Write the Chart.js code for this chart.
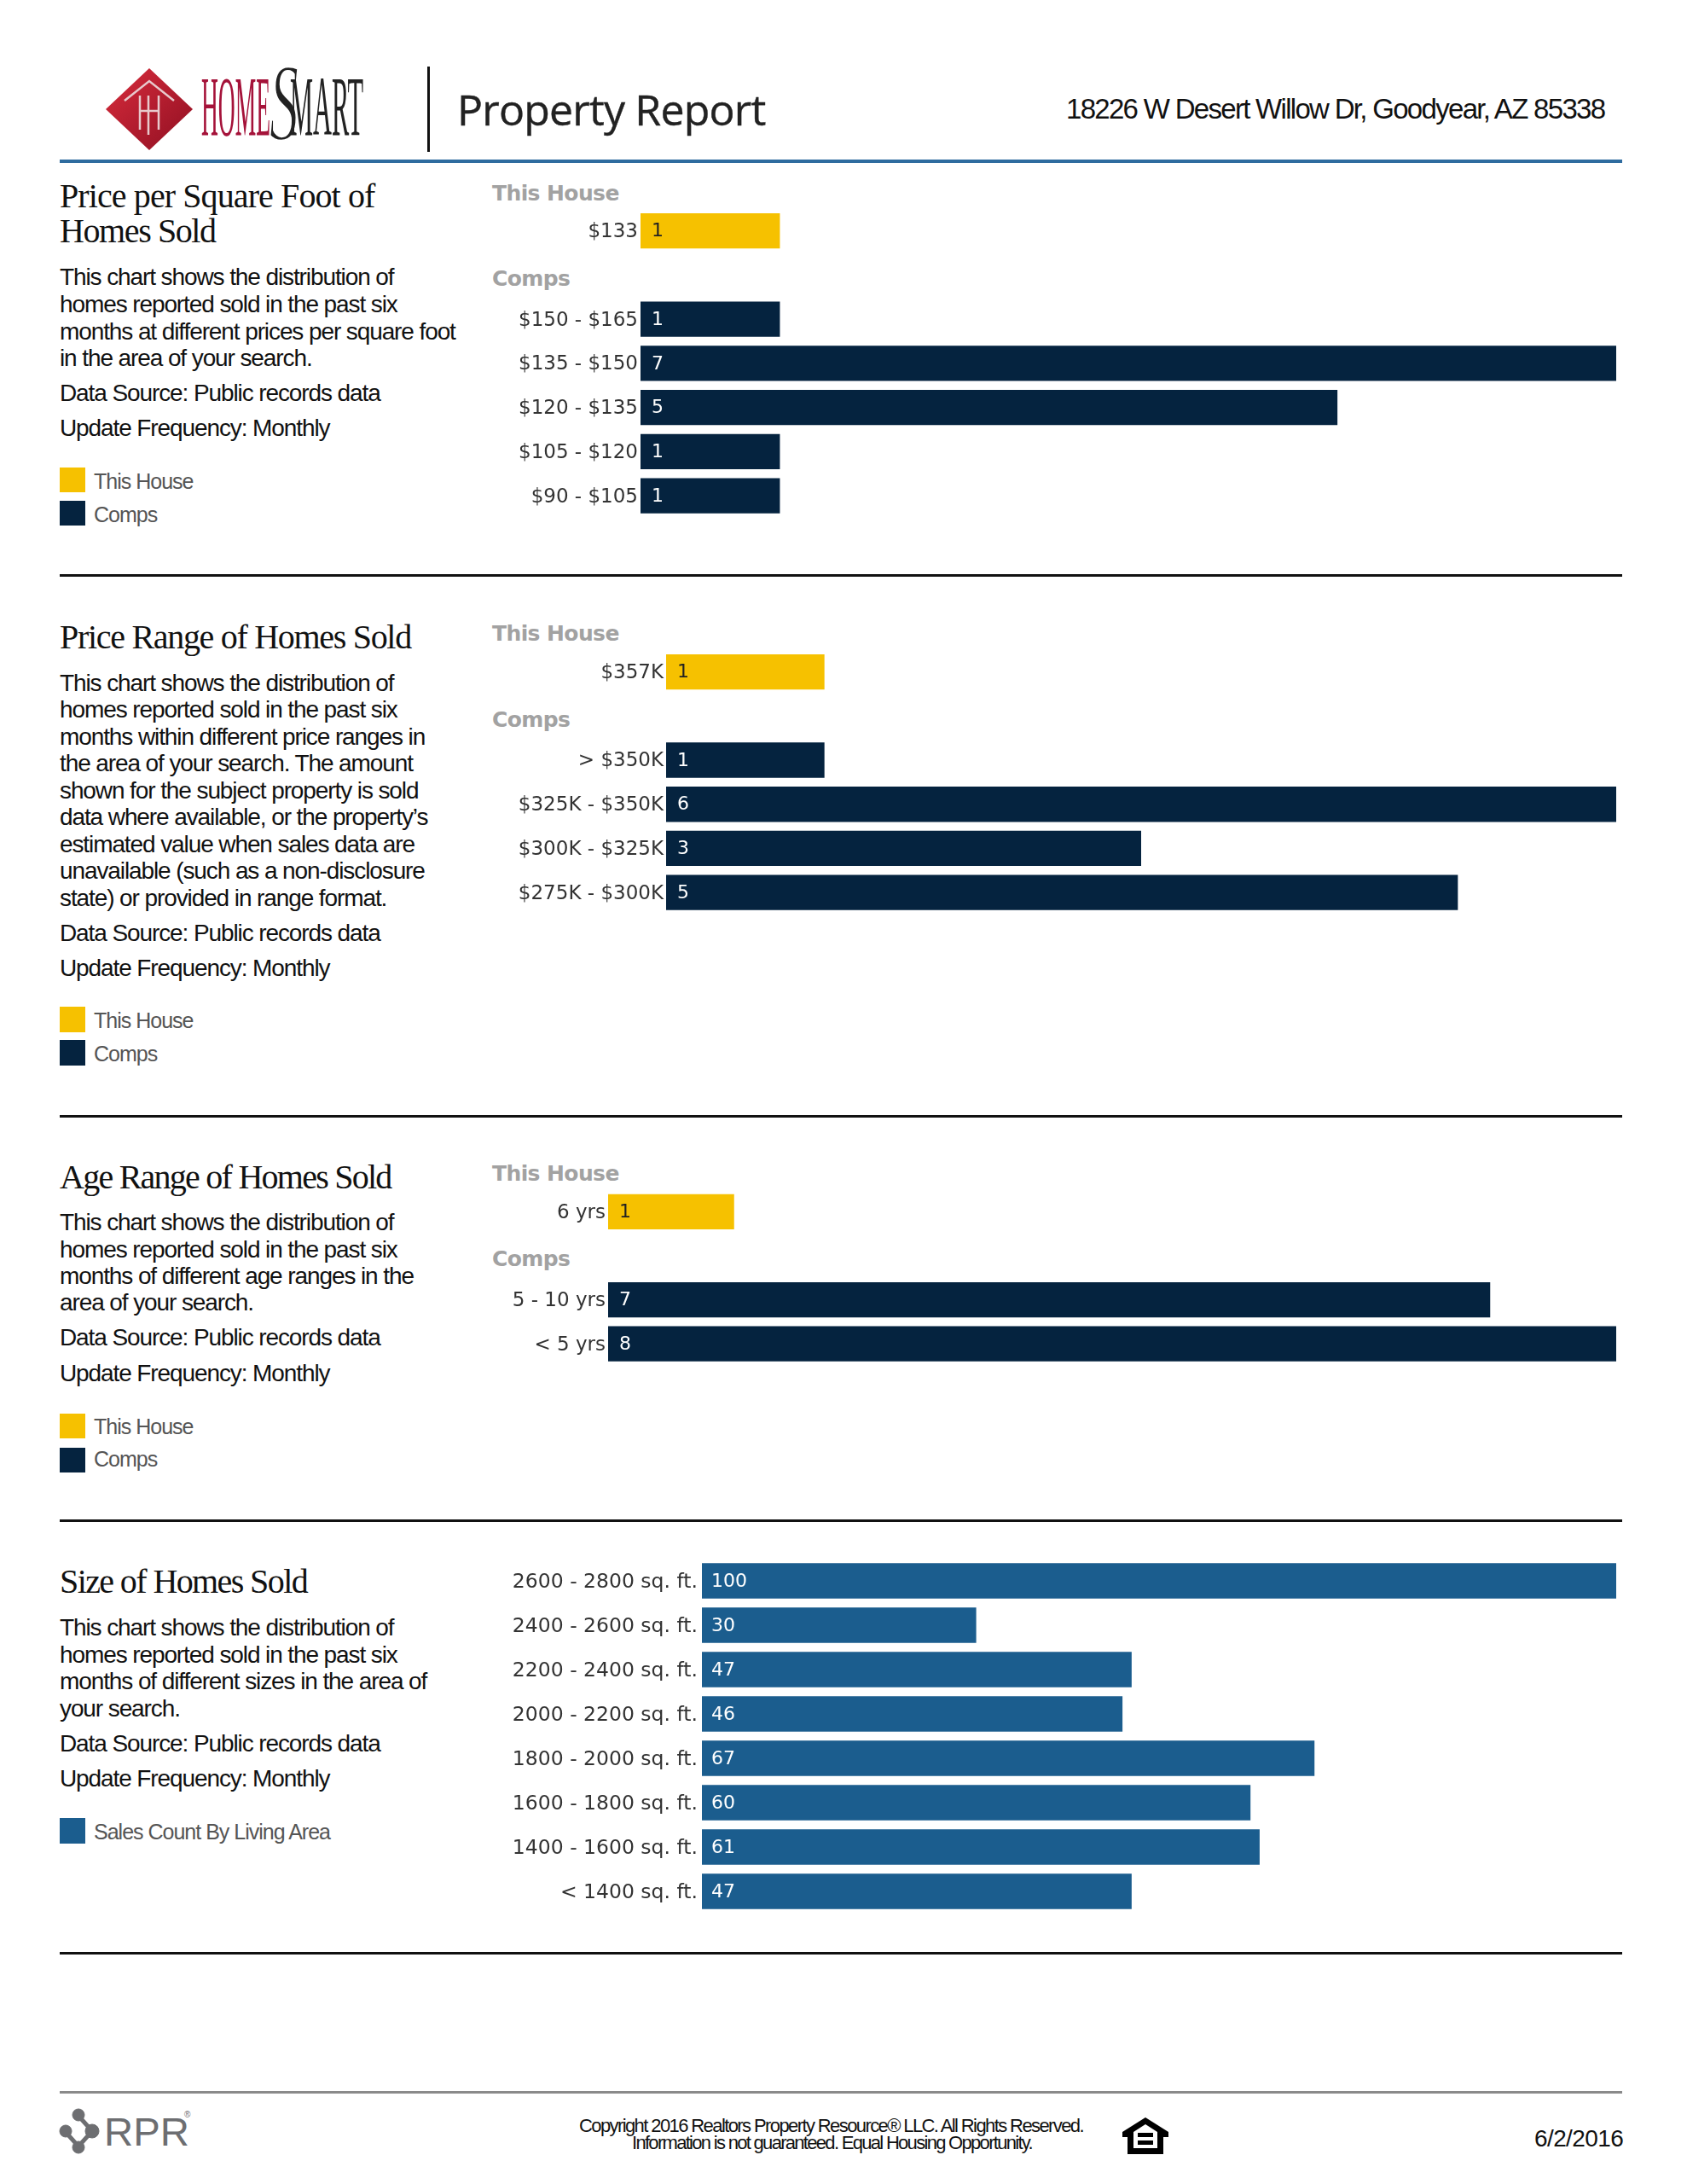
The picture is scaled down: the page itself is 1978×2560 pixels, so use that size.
<!DOCTYPE html>
<html>
<head>
<meta charset="utf-8">
<title>Property Report</title>
<script src="https://cdn.jsdelivr.net/npm/chart.js@4"></script>
<style>
  html, body { margin: 0; padding: 0; background: #fff; }
  #page { position: relative; width: 1978px; height: 2560px; overflow: hidden; }
  #page canvas, #page svg { position: absolute; }
  .t { position: absolute; white-space: nowrap; line-height: 1; transform: translateY(-50%); }
  .title { font: 40px "Liberation Serif", serif; color: #111; }
  .body { font: 28px "Liberation Sans", sans-serif; color: #111; letter-spacing: -1.1px; }
  .leg { font: 25px "Liberation Sans", sans-serif; color: #555; letter-spacing: -1px; }
  .head { font: bold 25px "DejaVu Sans", sans-serif; color: #a2a2a2; letter-spacing: -0.6px; }
  .foot { font: 22px "Liberation Sans", sans-serif; color: #111; letter-spacing: -1.7px; }
  .rule { position: absolute; left: 70px; width: 1832px; }
  .sw { position: absolute; left: 70px; width: 30px; }
</style>
</head>
<body>
<div id="page"></div>
<script>
/*
  Property report page, four bar charts. Text around the charts is plain DOM.
*/

const YELLOW = '#f6c100';
const NAVY = '#05233f';
const BLUE = '#1b5d8e';

// Price per square foot
const ppsfHouseLabels = ['$133'];
const ppsfHouseValues = [1];
const ppsfCompLabels = ['$150 - $165', '$135 - $150', '$120 - $135', '$105 - $120', '$90 - $105'];
const ppsfCompValues = [1, 7, 5, 1, 1];

// Price range
const priceHouseLabels = ['$357K'];
const priceHouseValues = [1];
const priceCompLabels = ['> $350K', '$325K - $350K', '$300K - $325K', '$275K - $300K'];
const priceCompValues = [1, 6, 3, 5];

// Age range
const ageHouseLabels = ['6 yrs'];
const ageHouseValues = [1];
const ageCompLabels = ['5 - 10 yrs', '< 5 yrs'];
const ageCompValues = [7, 8];

// Size
const sizeLabels = ['2600 - 2800 sq. ft.', '2400 - 2600 sq. ft.', '2200 - 2400 sq. ft.', '2000 - 2200 sq. ft.',
  '1800 - 2000 sq. ft.', '1600 - 1800 sq. ft.', '1400 - 1600 sq. ft.', '< 1400 sq. ft.'];
const sizeValues = [100, 30, 47, 46, 67, 60, 61, 47];

const page = document.getElementById('page');

function text(str, cls, x, y, extra){
  const d = document.createElement('div');
  d.className = 't ' + cls;
  d.textContent = str;
  d.style.left = x + 'px';
  d.style.top = y + 'px';
  if(extra) d.style.cssText += extra;
  page.appendChild(d);
  return d;
}

function rule(y, h, color){
  const d = document.createElement('div');
  d.className = 'rule';
  d.style.top = y + 'px';
  d.style.height = h + 'px';
  d.style.background = color;
  page.appendChild(d);
}

function swatch(y, h, color){
  const d = document.createElement('div');
  d.className = 'sw';
  d.style.top = y + 'px';
  d.style.height = h + 'px';
  d.style.background = color;
  page.appendChild(d);
}

// value printed just inside the start of each bar
const barValues = {
  id: 'barValues',
  afterDatasetsDraw(chart){
    const ctx = chart.ctx;
    ctx.save();
    ctx.font = '22px "DejaVu Sans", sans-serif';
    ctx.textBaseline = 'middle';
    chart.data.datasets.forEach((ds, i) => {
      chart.getDatasetMeta(i).data.forEach((el, j) => {
        if(ds.data[j] == null) return;
        ctx.fillStyle = ds.valueColor;
        ctx.fillText(String(ds.data[j]), el.base + ds.valueInset, el.y + 1);
      });
    });
    ctx.restore();
  }
};

function buildChart(top, height, plotLeft, labels, datasets, max, padding, fontSize){
  const canvas = document.createElement('canvas');
  const left = 577;
  canvas.width = 1895 - left;
  canvas.height = height;
  canvas.style.left = left + 'px';
  canvas.style.top = top + 'px';
  page.appendChild(canvas);
  return new Chart(canvas.getContext('2d'), {
    type: 'bar',
    data: { labels, datasets },
    plugins: [barValues],
    options: {
      indexAxis: 'y',
      responsive: false,
      animation: false,
      devicePixelRatio: 1,
      plugins: { legend: { display: false }, tooltip: { enabled: false } },
      layout: { padding: 0 },
      scales: {
        x: { display: false, stacked: true, min: 0, max },
        y: {
          stacked: true,
          afterFit(axis){
            axis.width = plotLeft - left;
            // first/last labels would otherwise inset the plot area
            axis.paddingTop = 0;
            axis.paddingBottom = 0;
          },
          grid: { display: false, drawTicks: false },
          border: { display: false },
          ticks: { autoSkip: false, padding, labelOffset: 1.5, color: '#333', font: { family: '"DejaVu Sans", sans-serif', size: fontSize } },
        },
      },
    },
  });
}

// heading slot, house bar, heading slot, comp bars
function houseCompChart(top, height, plotLeft, houseLabels, houseValues, compLabels, compValues, max){
  const labels = ['', ...houseLabels, '', ...compLabels];
  const house = [null, ...houseValues, null, ...compValues.map(() => null)];
  const comps = [null, ...houseValues.map(() => null), null, ...compValues];
  return buildChart(top, height, plotLeft, labels, [
    { label: 'This House', data: house, backgroundColor: YELLOW, valueColor: '#222', valueInset: 13, barPercentage: 0.8, categoryPercentage: 1 },
    { label: 'Comps', data: comps, backgroundColor: NAVY, valueColor: '#fff', valueInset: 13, barPercentage: 0.8, categoryPercentage: 1 },
  ], max, 3, 23);
}

function section(titles, bodyLines, bodyYs, legend){
  titles.forEach(t => text(t.s, 'title', 70, t.y, `letter-spacing:${t.ls}px`));
  bodyLines.forEach((s, i) => text(s, 'body', 70, bodyYs[i]));
  legend.forEach(l => {
    swatch(l.top, l.h, l.color);
    text(l.name, 'leg', 110, l.y);
  });
}

// page header
page.insertAdjacentHTML('beforeend', `
<svg style="left:120px;top:74px" width="320" height="110" viewBox="0 0 320 110">
  <defs><linearGradient id="red" x1="0" y1="0" x2="1" y2="1">
    <stop offset="0" stop-color="#d92c3c"/><stop offset="1" stop-color="#8f0f22"/></linearGradient></defs>
  <polygon points="55,6 106,54 55,102 4,54" fill="url(#red)"/>
  <path d="M26 44 L55 21 L84 44" fill="none" stroke="#e8c9cc" stroke-width="2.5"/>
  <path d="M44 38 V78 M54 38 V84 M66 38 V78 M44 56 H66" fill="none" stroke="#e8c9cc" stroke-width="2.5"/>
  <text x="196" y="90" font-family="Liberation Serif" font-style="italic" font-size="130" fill="#222" stroke="#fff" stroke-width="2.5" textLength="34" lengthAdjust="spacingAndGlyphs">S</text>
  <text x="116" y="84" font-family="Liberation Serif" font-size="100" fill="#a5133a" textLength="81" lengthAdjust="spacingAndGlyphs">HOME</text>
  <text x="220" y="84" font-family="Liberation Serif" font-size="100" fill="#222" textLength="86" lengthAdjust="spacingAndGlyphs">MART</text>
</svg>`);
const vbar = document.createElement('div');
vbar.style.cssText = 'position:absolute;left:501px;top:78px;width:3px;height:100px;background:#111';
page.appendChild(vbar);
text('Property Report', '', 536, 128, 'font:50px "Open Sans",sans-serif;color:#222;letter-spacing:-0.8px;-webkit-text-stroke:0.4px #222');
text('18226 W Desert Willow Dr, Goodyear, AZ 85338', '', 1250, 128, 'font:33px "Liberation Sans",sans-serif;color:#111;letter-spacing:-1.7px');
rule(187, 4, '#2f6c9f');

// section 1
section([{ s: 'Price per Square Foot of', y: 229, ls: -0.9 }, { s: 'Homes Sold', y: 270, ls: -1.4 }],
  ['This chart shows the distribution of', 'homes reported sold in the past six', 'months at different prices per square foot',
   'in the area of your search.', 'Data Source: Public records data', 'Update Frequency: Monthly'],
  [325, 357, 389, 420, 461, 502],
  [{ name: 'This House', color: YELLOW, top: 548, h: 29, y: 564 }, { name: 'Comps', color: NAVY, top: 587, h: 29, y: 603 }]);
text('This House', 'head', 577, 226);
text('Comps', 'head', 577, 326);
houseCompChart(192.5, 414, 751, ppsfHouseLabels, ppsfHouseValues, ppsfCompLabels, ppsfCompValues, 7);
rule(673, 3, '#111');

// section 2
section([{ s: 'Price Range of Homes Sold', y: 746, ls: -1.3 }],
  ['This chart shows the distribution of', 'homes reported sold in the past six', 'months within different price ranges in',
   'the area of your search. The amount', 'shown for the subject property is sold', 'data where available, or the property\u2019s',
   'estimated value when sales data are', 'unavailable (such as a non-disclosure', 'state) or provided in range format.',
   'Data Source: Public records data', 'Update Frequency: Monthly'],
  [801, 832, 864, 895, 927, 958, 990, 1021, 1053, 1094, 1135],
  [{ name: 'This House', color: YELLOW, top: 1180, h: 30, y: 1196 }, { name: 'Comps', color: NAVY, top: 1219, h: 30, y: 1235 }]);
text('This House', 'head', 577, 742);
text('Comps', 'head', 577, 843);
houseCompChart(709.5, 362, 781, priceHouseLabels, priceHouseValues, priceCompLabels, priceCompValues, 6);
rule(1306.5, 3, '#111');

// section 3
section([{ s: 'Age Range of Homes Sold', y: 1379, ls: -1.75 }],
  ['This chart shows the distribution of', 'homes reported sold in the past six', 'months of different age ranges in the',
   'area of your search.', 'Data Source: Public records data', 'Update Frequency: Monthly'],
  [1433, 1465, 1496, 1527, 1568, 1610],
  [{ name: 'This House', color: YELLOW, top: 1657, h: 29, y: 1672 }, { name: 'Comps', color: NAVY, top: 1697, h: 29, y: 1710 }]);
text('This House', 'head', 577, 1375);
text('Comps', 'head', 577, 1475);
houseCompChart(1343, 258.5, 713, ageHouseLabels, ageHouseValues, ageCompLabels, ageCompValues, 8);
rule(1780.5, 3, '#111');

// section 4
section([{ s: 'Size of Homes Sold', y: 1853, ls: -1.6 }],
  ['This chart shows the distribution of', 'homes reported sold in the past six', 'months of different sizes in the area of',
   'your search.', 'Data Source: Public records data', 'Update Frequency: Monthly'],
  [1908, 1940, 1971, 2003, 2044, 2085],
  [{ name: 'Sales Count By Living Area', color: BLUE, top: 2131, h: 30, y: 2147 }]);
buildChart(1827, 416, 823, sizeLabels, [
  { label: 'Sales Count By Living Area', data: sizeValues, backgroundColor: BLUE, valueColor: '#fff', valueInset: 11, barPercentage: 0.8, categoryPercentage: 1 },
], 100, 5, 23.5);
rule(2288, 3, '#111');

// footer
rule(2451, 3, '#8a8a8a');
page.insertAdjacentHTML('beforeend', `
<svg style="left:68px;top:2468px" width="160" height="60" viewBox="0 0 160 60">
  <g fill="#6d6e71" stroke="#6d6e71">
    <path d="M24 12 L40 30 L24 48 L8 30" fill="none" stroke-width="5"/>
    <circle cx="24" cy="11" r="7"/><circle cx="9" cy="30" r="7"/><circle cx="40" cy="30" r="8"/><circle cx="24" cy="49" r="7"/>
  </g>
  <text x="54" y="47" font-family="Liberation Sans" font-size="46" fill="#6d6e71" textLength="100" lengthAdjust="spacingAndGlyphs">RPR</text>
  <text x="148" y="14" font-family="Liberation Sans" font-size="10" fill="#6d6e71">®</text>
</svg>
<svg style="left:1316px;top:2482px" width="54" height="43" viewBox="0 0 54 43">
  <path d="M27 0 L54 17 V23 H48 V43 H6 V23 H0 V17 Z M27 8 L13 17 V36 H41 V17 Z" fill="#000" fill-rule="evenodd"/>
  <rect x="18" y="18" width="18" height="5" fill="#000"/><rect x="18" y="27" width="18" height="5" fill="#000"/>
</svg>`);
text('Copyright 2016 Realtors Property Resource\u00ae LLC. All Rights Reserved.', 'foot', 679, 2492, 'letter-spacing:-1.6px');
text('Information is not guaranteed. Equal Housing Opportunity.', 'foot', 741, 2512);
text('6/2/2016', '', 1799, 2507, 'font:28px "Liberation Sans",sans-serif;color:#111;letter-spacing:-0.6px');
</script>
</body>
</html>
